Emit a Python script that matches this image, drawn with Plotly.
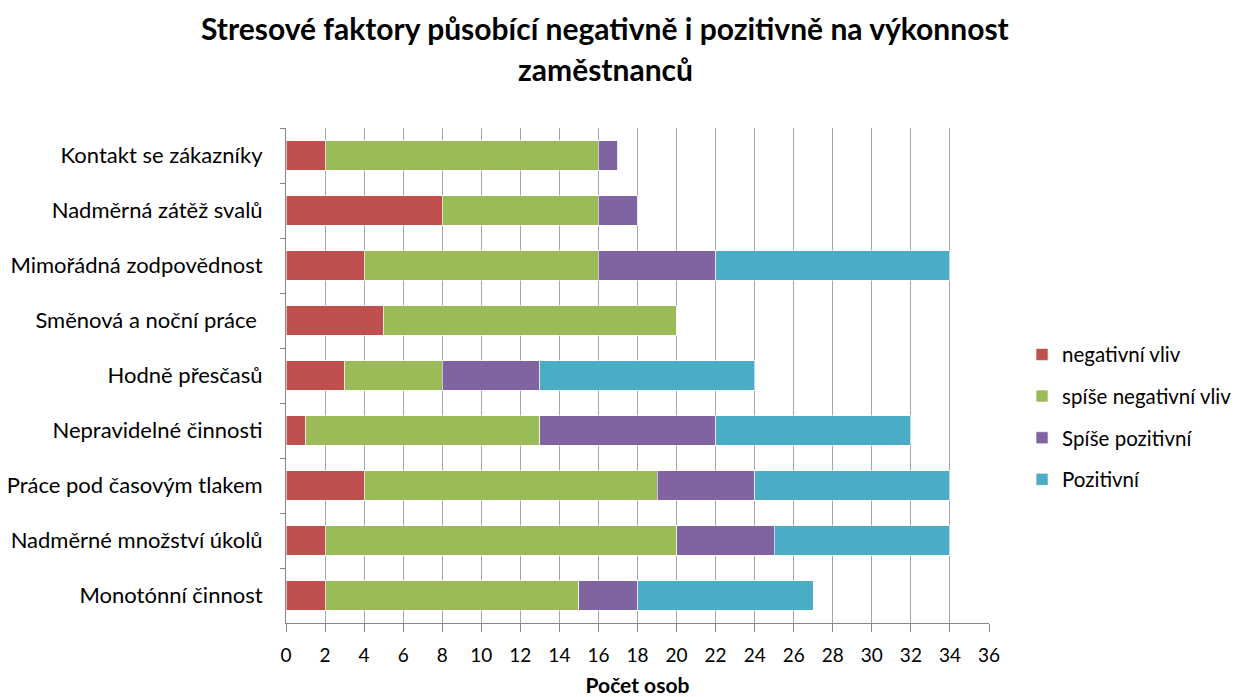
import plotly.graph_objects as go

categories = [
    "Kontakt se zákazníky",
    "Nadměrná zátěž svalů",
    "Mimořádná zodpovědnost",
    "Směnová a noční práce ",
    "Hodně přesčasů",
    "Nepravidelné činnosti",
    "Práce pod časovým tlakem",
    "Nadměrné množství úkolů",
    "Monotónní činnost",
]
negativni_vliv = [2, 8, 4, 5, 3, 1, 4, 2, 2]
spise_negativni_vliv = [14, 8, 12, 15, 5, 12, 15, 18, 13]
spise_pozitivni = [1, 2, 6, 0, 5, 9, 5, 5, 3]
pozitivni = [0, 0, 12, 0, 11, 10, 10, 9, 9]

series = [
    ("negativní vliv", negativni_vliv, "#C0504D"),
    ("spíše negativní vliv", spise_negativni_vliv, "#9BBB59"),
    ("Spíše pozitivní", spise_pozitivni, "#8064A2"),
    ("Pozitivní", pozitivni, "#4BACC6"),
]

FONT = "Lato, 'Open Sans', sans-serif"

fig = go.Figure()
for i, (name, vals, color) in enumerate(series):
    fig.add_trace(go.Bar(
        y=categories, x=vals, name=name, orientation="h",
        marker=dict(color=color, line=dict(color="rgba(255,255,255,0.6)", width=1)),
        width=0.53, legendgroup=str(i),
    ))

# page body has an 8px margin, so the figure is offset by 8px
fig.update_layout(
    barmode="stack",
    width=1238, height=689,
    margin=dict(l=278, r=257, t=120, b=74, autoexpand=False),
    paper_bgcolor="white", plot_bgcolor="white",
    font=dict(family=FONT, size=22, color="#000000"),
    showlegend=True,
    legend=dict(x=1.047, y=0.416, xanchor="left", yanchor="middle",
                font=dict(size=20.5), tracegroupgap=12, itemwidth=30),
    xaxis=dict(range=[0, 36], dtick=2, tick0=0, showgrid=True,
               gridcolor="#A6A6A6", gridwidth=1, showline=True,
               linecolor="#868686", ticks="outside", ticklen=8,
               tickcolor="#868686", zeroline=False, automargin=False,
               tickfont=dict(size=19), ticklabelstandoff=7,
               title=dict(text="<b>Počet osob</b>", font=dict(size=21), standoff=15)),
    yaxis=dict(autorange="reversed", showline=True, linecolor="#868686",
               ticks="outside", ticklen=5, tickcolor="#868686", automargin=False,
               tickson="boundaries", tickfont=dict(size=22), ticklabelstandoff=18),
    annotations=[
        dict(text="<b>Stresové faktory působící negativně i pozitivně na výkonnost</b>",
             xref="paper", yref="paper", x=(605 - 286) / 703, y=(623 - 28.5) / 495,
             xanchor="center", yanchor="middle", showarrow=False,
             font=dict(size=30, family=FONT)),
        dict(text="<b>zaměstnanců</b>",
             xref="paper", yref="paper", x=(605 - 286) / 703, y=(623 - 69) / 495,
             xanchor="center", yanchor="middle", showarrow=False,
             font=dict(size=30, family=FONT)),
    ],
)

fig.write_html("out.html")
